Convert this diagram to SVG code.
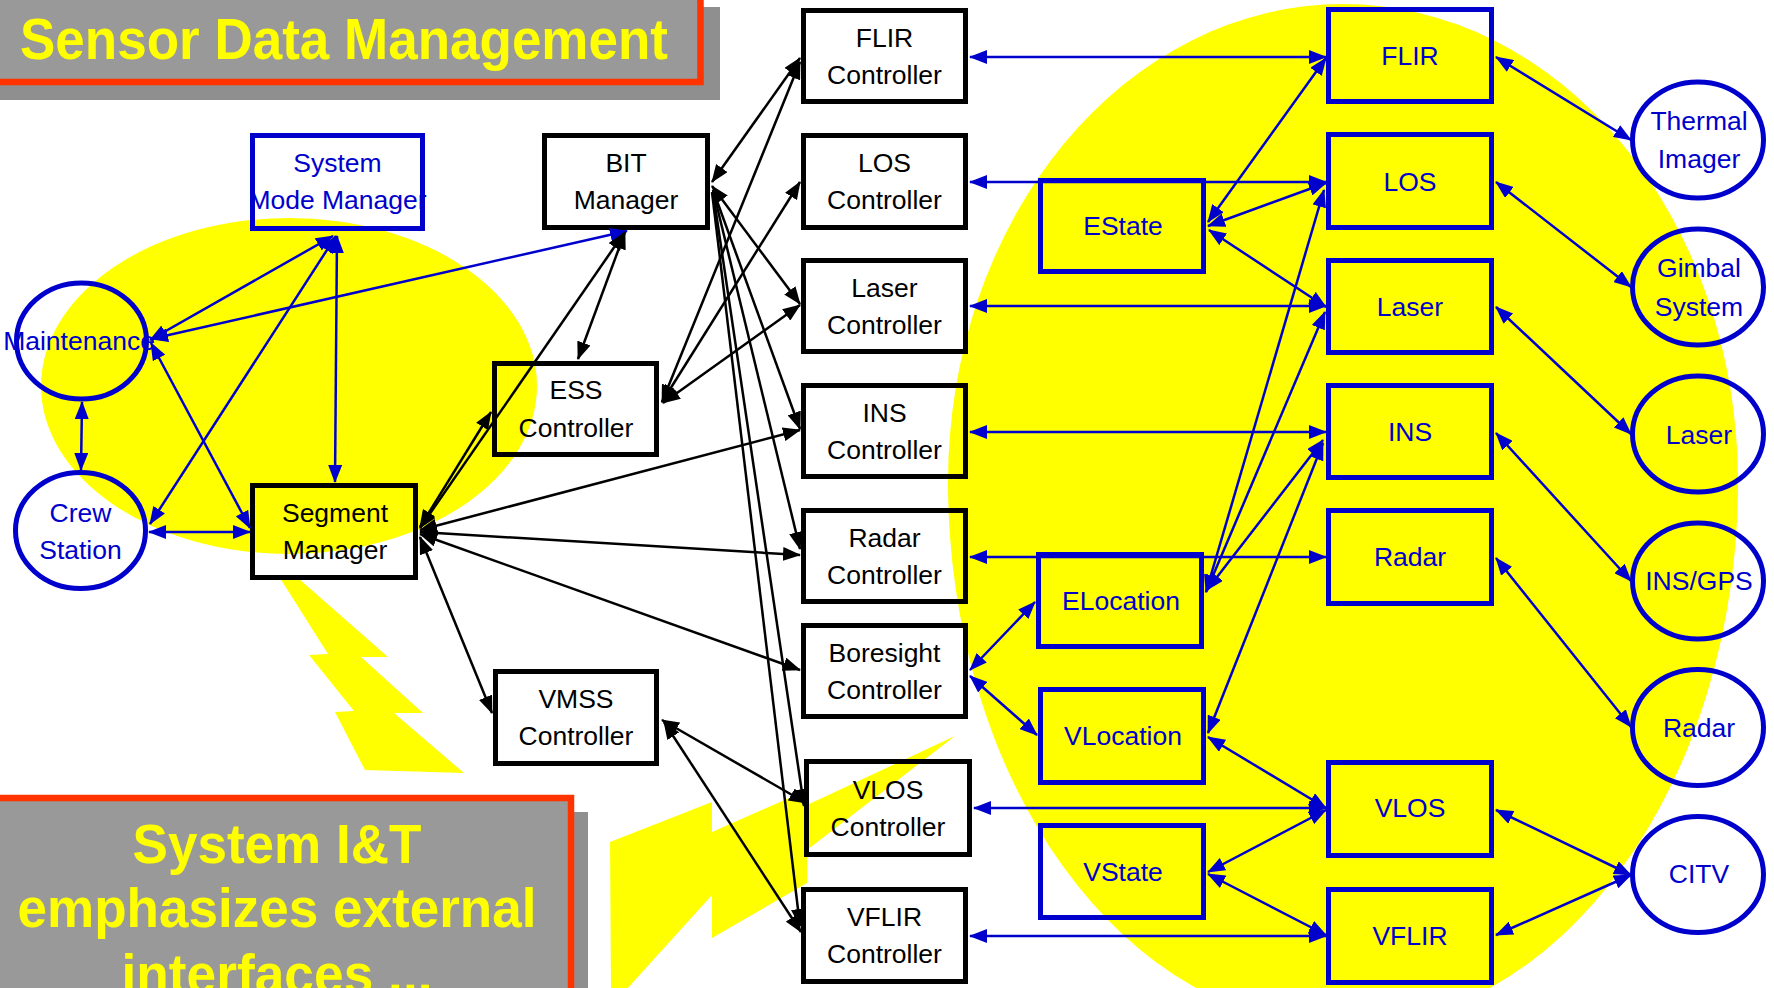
<svg xmlns="http://www.w3.org/2000/svg" width="1774" height="988" viewBox="0 0 1774 988">
  <style>
    .bx { fill: none; stroke: #000; stroke-width: 5; }
    .bb { fill: none; stroke: #0000CC; stroke-width: 5; }
    .bc { fill: none; stroke: #0000CC; stroke-width: 5; }
    .t { font-family: "Liberation Sans", Arial, sans-serif; font-size: 26.5px; text-anchor: middle; }
    .tk { fill: #000; }
    .tb { fill: #0000CC; }
    .hd { font-family: "Liberation Sans", Arial, sans-serif; font-weight: bold; fill: #FFFF00; }
    .lk { stroke: #000; stroke-width: 2.5; fill: none; marker-start: url(#ak); marker-end: url(#ak); }
    .lk1 { stroke: #000; stroke-width: 2.5; fill: none; marker-end: url(#ak); }
    .lb { stroke: #0000CC; stroke-width: 2.5; fill: none; marker-start: url(#ab); marker-end: url(#ab); }
    .yl { fill: #FFFF00; }
  </style>
  <defs>
    <marker id="ak" viewBox="0 0 18 14" refX="17" refY="7" markerWidth="18" markerHeight="14" markerUnits="userSpaceOnUse" orient="auto-start-reverse">
      <path d="M0,0 L18,7 L0,14 Z" fill="#000"/>
    </marker>
    <marker id="ab" viewBox="0 0 18 14" refX="17" refY="7" markerWidth="18" markerHeight="14" markerUnits="userSpaceOnUse" orient="auto-start-reverse">
      <path d="M0,0 L18,7 L0,14 Z" fill="#0000CC"/>
    </marker>
  </defs>

  <rect width="1774" height="988" fill="#fff"/>

  <!-- yellow highlight areas -->
  <g id="highlights">
    <ellipse class="yl" cx="289" cy="386" rx="248" ry="168"/>
    <path class="yl" d="M948 482 A395 478 0 0 1 1738 482 A395 545 0 0 1 948 482 Z"/>
    <polygon class="yl" points="280,578 328,654 309,655 354,711 335,712 365,770 464,773 394,713 423,713 361,657 388,657 298,578"/>
    <polygon class="yl" points="611,990 610,842 712,802 712,832 807,790 807,805 955,736 807,850 807,883 712,938 712,895 626,990"/>
  </g>

  <!-- heading panels -->
  <g id="title-top">
    <rect x="-20" y="7" width="740" height="93" fill="#8f8f8f"/>
    <rect x="-20" y="-20" width="720.5" height="102" fill="#999999" stroke="#FF3300" stroke-width="6.5"/>
    <text class="hd" x="20" y="59" font-size="57" textLength="648" lengthAdjust="spacingAndGlyphs">Sensor Data Management</text>
  </g>
  <g id="title-bottom">
    <rect x="-20" y="812" width="608" height="200" fill="#8f8f8f"/>
    <rect x="-20" y="798" width="591" height="220" fill="#999999" stroke="#FF3300" stroke-width="6.5"/>
    <text class="hd" x="277" y="863" font-size="56" text-anchor="middle" textLength="289" lengthAdjust="spacingAndGlyphs">System I&amp;T</text>
    <text class="hd" x="277" y="927" font-size="56" text-anchor="middle" textLength="519" lengthAdjust="spacingAndGlyphs">emphasizes external</text>
    <text class="hd" x="277" y="993" font-size="56" text-anchor="middle" textLength="311" lengthAdjust="spacingAndGlyphs">interfaces ...</text>
  </g>

  <!-- left side nodes -->
  <g id="system-mode-manager">
    <rect class="bb" x="252.5" y="135.5" width="170" height="93"/>
    <text class="t tb" x="337.5" y="172">System</text>
    <text class="t tb" x="337.5" y="209">Mode Manager</text>
  </g>
  <g id="maintenance">
    <ellipse class="bc" cx="81.5" cy="341" rx="65" ry="58"/>
    <text class="t tb" x="79" y="350">Maintenance</text>
  </g>
  <g id="crew-station">
    <ellipse class="bc" cx="80.5" cy="530.5" rx="65" ry="58"/>
    <text class="t tb" x="80.5" y="522">Crew</text>
    <text class="t tb" x="80.5" y="559">Station</text>
  </g>
  <g id="segment-manager">
    <rect class="bx" x="252.5" y="485.5" width="163" height="92"/>
    <text class="t tk" x="335" y="522">Segment</text>
    <text class="t tk" x="335" y="559">Manager</text>
  </g>
  <g id="bit-manager">
    <rect class="bx" x="544.5" y="135.5" width="163" height="92"/>
    <text class="t tk" x="626" y="172">BIT</text>
    <text class="t tk" x="626" y="209">Manager</text>
  </g>
  <g id="ess-controller">
    <rect class="bx" x="494.5" y="363.5" width="162" height="91"/>
    <text class="t tk" x="576" y="399">ESS</text>
    <text class="t tk" x="576" y="436.5">Controller</text>
  </g>
  <g id="vmss-controller">
    <rect class="bx" x="495.5" y="671.5" width="161" height="92"/>
    <text class="t tk" x="576" y="708">VMSS</text>
    <text class="t tk" x="576" y="745">Controller</text>
  </g>

  <!-- controller column -->
  <g id="flir-controller">
    <rect class="bx" x="803.5" y="10.5" width="162" height="91"/>
    <text class="t tk" x="884.5" y="46.5">FLIR</text>
    <text class="t tk" x="884.5" y="83.5">Controller</text>
  </g>
  <g id="los-controller">
    <rect class="bx" x="803.5" y="135.5" width="162" height="92"/>
    <text class="t tk" x="884.5" y="172">LOS</text>
    <text class="t tk" x="884.5" y="209">Controller</text>
  </g>
  <g id="laser-controller">
    <rect class="bx" x="803.5" y="260.5" width="162" height="91"/>
    <text class="t tk" x="884.5" y="296.5">Laser</text>
    <text class="t tk" x="884.5" y="333.5">Controller</text>
  </g>
  <g id="ins-controller">
    <rect class="bx" x="803.5" y="385.5" width="162" height="91"/>
    <text class="t tk" x="884.5" y="421.5">INS</text>
    <text class="t tk" x="884.5" y="458.5">Controller</text>
  </g>
  <g id="radar-controller">
    <rect class="bx" x="803.5" y="510.5" width="162" height="91"/>
    <text class="t tk" x="884.5" y="546.5">Radar</text>
    <text class="t tk" x="884.5" y="583.5">Controller</text>
  </g>
  <g id="boresight-controller">
    <rect class="bx" x="803.5" y="625.5" width="162" height="91"/>
    <text class="t tk" x="884.5" y="661.5">Boresight</text>
    <text class="t tk" x="884.5" y="698.5">Controller</text>
  </g>
  <g id="vlos-controller">
    <rect class="bx" x="806.5" y="761.5" width="163" height="93"/>
    <text class="t tk" x="888" y="798.5">VLOS</text>
    <text class="t tk" x="888" y="835.5">Controller</text>
  </g>
  <g id="vflir-controller">
    <rect class="bx" x="803.5" y="889.5" width="162" height="92"/>
    <text class="t tk" x="884.5" y="926">VFLIR</text>
    <text class="t tk" x="884.5" y="963">Controller</text>
  </g>

  <!-- state / location blocks -->
  <g id="estate">
    <rect class="bb" x="1040.5" y="180.5" width="163" height="91"/>
    <text class="t tb" x="1123" y="235">EState</text>
  </g>
  <g id="elocation">
    <rect class="bb" x="1038.5" y="554.5" width="163" height="92"/>
    <text class="t tb" x="1121" y="610">ELocation</text>
  </g>
  <g id="vlocation">
    <rect class="bb" x="1040.5" y="689.5" width="163" height="93"/>
    <text class="t tb" x="1123" y="745">VLocation</text>
  </g>
  <g id="vstate">
    <rect class="bb" x="1040.5" y="825.5" width="163" height="92"/>
    <text class="t tb" x="1123" y="881">VState</text>
  </g>

  <!-- sensor blocks -->
  <g id="flir">
    <rect class="bb" x="1328.5" y="9.5" width="163" height="92"/>
    <text class="t tb" x="1410" y="65">FLIR</text>
  </g>
  <g id="los">
    <rect class="bb" x="1328.5" y="134.5" width="163" height="93"/>
    <text class="t tb" x="1410" y="191">LOS</text>
  </g>
  <g id="laser">
    <rect class="bb" x="1328.5" y="260.5" width="163" height="92"/>
    <text class="t tb" x="1410" y="316">Laser</text>
  </g>
  <g id="ins">
    <rect class="bb" x="1328.5" y="385.5" width="163" height="92"/>
    <text class="t tb" x="1410" y="440.5">INS</text>
  </g>
  <g id="radar">
    <rect class="bb" x="1328.5" y="510.5" width="163" height="93"/>
    <text class="t tb" x="1410" y="566">Radar</text>
  </g>
  <g id="vlos">
    <rect class="bb" x="1328.5" y="762.5" width="163" height="93"/>
    <text class="t tb" x="1410" y="817">VLOS</text>
  </g>
  <g id="vflir">
    <rect class="bb" x="1328.5" y="889.5" width="163" height="93"/>
    <text class="t tb" x="1410" y="945">VFLIR</text>
  </g>

  <!-- external equipment -->
  <g id="thermal-imager">
    <ellipse class="bc" cx="1698" cy="140" rx="65.5" ry="58"/>
    <text class="t tb" x="1699" y="130">Thermal</text>
    <text class="t tb" x="1699" y="168">Imager</text>
  </g>
  <g id="gimbal-system">
    <ellipse class="bc" cx="1698" cy="287" rx="65.5" ry="58"/>
    <text class="t tb" x="1699" y="277">Gimbal</text>
    <text class="t tb" x="1699" y="316">System</text>
  </g>
  <g id="laser-unit">
    <ellipse class="bc" cx="1698" cy="434" rx="65.5" ry="58"/>
    <text class="t tb" x="1699" y="444">Laser</text>
  </g>
  <g id="ins-gps">
    <ellipse class="bc" cx="1698" cy="581" rx="65.5" ry="58"/>
    <text class="t tb" x="1699" y="590">INS/GPS</text>
  </g>
  <g id="radar-unit">
    <ellipse class="bc" cx="1698" cy="727.5" rx="65.5" ry="58"/>
    <text class="t tb" x="1699" y="737">Radar</text>
  </g>
  <g id="citv">
    <ellipse class="bc" cx="1698" cy="874.5" rx="65.5" ry="58"/>
    <text class="t tb" x="1699" y="883">CITV</text>
  </g>

  <!-- connectors -->
  <g id="connectors">
    <!-- operator side -->
    <line class="lb" x1="333" y1="236" x2="150" y2="340"/>
    <line class="lb" x1="336" y1="236" x2="150" y2="524"/>
    <line class="lb" x1="337" y1="236" x2="335" y2="482"/>
    <line class="lb" x1="151" y1="343" x2="250" y2="528"/>
    <line class="lb" x1="82" y1="402" x2="81" y2="470"/>
    <line class="lb" x1="149" y1="532" x2="250" y2="532"/>
    <line class="lb" x1="151" y1="339" x2="627" y2="231"/>

    <!-- managers to controllers -->
    <line class="lk" x1="712" y1="182" x2="800" y2="58"/>
    <line class="lk" x1="625" y1="232" x2="578" y2="359"/>
    <line class="lk" x1="420" y1="528" x2="624" y2="233"/>
    <line class="lk" x1="712" y1="186" x2="800" y2="304"/>
    <line class="lk1" x1="713" y1="190" x2="800" y2="429"/>
    <line class="lk1" x1="713" y1="190" x2="800" y2="549"/>
    <line class="lk1" x1="713" y1="192" x2="804" y2="806"/>
    <line class="lk1" x1="712" y1="192" x2="800" y2="926"/>
    <line class="lk" x1="662" y1="402" x2="800" y2="62"/>
    <line class="lk" x1="662" y1="402" x2="800" y2="182"/>
    <line class="lk" x1="663" y1="403" x2="800" y2="305"/>
    <line class="lk" x1="420" y1="527" x2="491" y2="412"/>
    <line class="lk" x1="420" y1="530" x2="800" y2="430"/>
    <line class="lk" x1="420" y1="532" x2="800" y2="555"/>
    <line class="lk" x1="420" y1="534" x2="800" y2="670"/>
    <line class="lk" x1="420" y1="537" x2="492" y2="713"/>
    <line class="lk" x1="662" y1="720" x2="806" y2="803"/>
    <line class="lk" x1="664" y1="722" x2="801" y2="932"/>

    <!-- controllers to sensor blocks -->
    <line class="lb" x1="970" y1="57" x2="1326" y2="57"/>
    <line class="lb" x1="970" y1="182" x2="1326" y2="182"/>
    <line class="lb" x1="970" y1="306" x2="1326" y2="306"/>
    <line class="lb" x1="970" y1="432" x2="1326" y2="432"/>
    <line class="lb" x1="970" y1="557" x2="1326" y2="557"/>
    <line class="lb" x1="974" y1="808" x2="1326" y2="808"/>
    <line class="lb" x1="970" y1="936" x2="1326" y2="936"/>

    <!-- sensor blocks to external equipment -->
    <line class="lb" x1="1496" y1="57" x2="1631" y2="140"/>
    <line class="lb" x1="1496" y1="182" x2="1631" y2="287"/>
    <line class="lb" x1="1496" y1="307" x2="1631" y2="434"/>
    <line class="lb" x1="1496" y1="433" x2="1631" y2="581"/>
    <line class="lb" x1="1496" y1="558" x2="1631" y2="727"/>
    <line class="lb" x1="1496" y1="810" x2="1631" y2="875"/>
    <line class="lb" x1="1496" y1="935" x2="1631" y2="875"/>

    <!-- state and location links -->
    <line class="lb" x1="1208" y1="222" x2="1326" y2="58"/>
    <line class="lb" x1="1208" y1="226" x2="1326" y2="183"/>
    <line class="lb" x1="1209" y1="230" x2="1326" y2="307"/>
    <line class="lb" x1="1206" y1="592" x2="1324" y2="190"/>
    <line class="lb" x1="1206" y1="592" x2="1325" y2="312"/>
    <line class="lb" x1="1207" y1="590" x2="1323" y2="440"/>
    <line class="lb" x1="1208" y1="733" x2="1323" y2="443"/>
    <line class="lb" x1="970" y1="670" x2="1035" y2="602"/>
    <line class="lb" x1="970" y1="676" x2="1037" y2="735"/>
    <line class="lb" x1="1208" y1="737" x2="1326" y2="808"/>
    <line class="lb" x1="1208" y1="872" x2="1326" y2="810"/>
    <line class="lb" x1="1208" y1="874" x2="1326" y2="935"/>
  </g>
</svg>
